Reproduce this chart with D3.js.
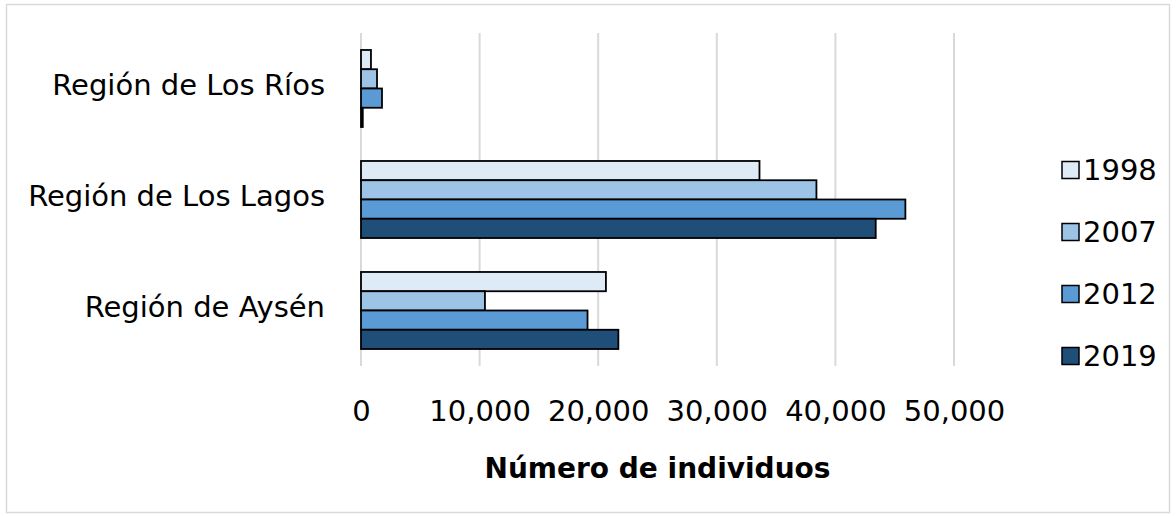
<!DOCTYPE html>
<html>
<head>
<meta charset="utf-8">
<script src="https://cdn.jsdelivr.net/npm/d3@7"></script>
<style>
  html, body { margin: 0; padding: 0; background: #fff; }
  svg { display: block; }
  text { font-family: "DejaVu Sans", sans-serif; fill: #000; }
</style>
</head>
<body>
<svg id="chart" width="1176" height="517"></svg>
<script>
// Regions (top to bottom) and survey years
const categories = ["Región de Los Ríos", "Región de Los Lagos", "Región de Aysén"];
const years = ["1998", "2007", "2012", "2019"];

// Number of individuals per region, one array per year
const v1998 = [840, 33600, 20650];
const v2007 = [1350, 38400, 10450];
const v2012 = [1770, 45900, 19100];
const v2019 = [150, 43400, 21700];

const xTicks = [0, 10000, 20000, 30000, 40000, 50000];
const xTitle = "Número de individuos";

const series = [v1998, v2007, v2012, v2019];
const colors = ["#DEEBF7", "#9DC3E6", "#5B9BD5", "#1F4E79"];

const svg = d3.select("#chart");

// outer chart frame
svg.append("rect")
  .attr("x", 6.5).attr("y", 4.5)
  .attr("width", 1163).attr("height", 508)
  .attr("fill", "#fff").attr("stroke", "#d9d9d9").attr("stroke-width", 1.5);

const x = d3.scaleLinear().domain([0, 50000]).range([361, 954]);
const y = d3.scaleBand().domain(categories).range([33, 366])
  .paddingInner(0.306).paddingOuter(0.153);
const yInner = d3.scaleBand().domain(years).range([0, y.bandwidth()]);

// vertical gridlines
svg.append("g")
  .selectAll("line")
  .data(xTicks)
  .join("line")
  .attr("x1", d => x(d)).attr("x2", d => x(d))
  .attr("y1", 33).attr("y2", 366)
  .attr("stroke", "#d9d9d9").attr("stroke-width", 2);

// bars
const groups = svg.append("g")
  .selectAll("g")
  .data(categories)
  .join("g")
  .attr("transform", d => `translate(0,${y(d)})`);

groups.selectAll("rect")
  .data((d, i) => years.map((yr, k) => ({ yr, k, v: series[k][i] })))
  .join("rect")
  .attr("x", x(0))
  .attr("y", d => yInner(d.yr))
  .attr("width", d => x(d.v) - x(0))
  .attr("height", yInner.bandwidth())
  .attr("fill", d => colors[d.k])
  .attr("stroke", "#000").attr("stroke-width", 1.8);

// category axis labels
const yAxis = d3.axisLeft(y).tickSize(0).tickPadding(36);
const gy = svg.append("g").attr("transform", `translate(${x(0)},-3)`).call(yAxis);
gy.select(".domain").remove();
gy.selectAll("text").style("font-size", "29px").attr("fill", "#000");

// value axis labels
const xAxis = d3.axisBottom(x).tickValues(xTicks).tickSize(0).tickPadding(0)
  .tickFormat(d3.format(","));
const gx = svg.append("g").attr("transform", "translate(0,400)").call(xAxis);
gx.select(".domain").remove();
gx.selectAll("text").style("font-size", "29px").attr("fill", "#000");

// axis title
svg.append("text")
  .attr("x", (x(0) + x(50000)) / 2).attr("y", 478)
  .attr("text-anchor", "middle")
  .style("font-size", "28px").style("font-weight", "bold")
  .text(xTitle);

// legend
const legend = svg.append("g")
  .selectAll("g")
  .data(years)
  .join("g")
  .attr("transform", (d, i) => `translate(1062,${170 + i * 62})`);

legend.append("rect")
  .attr("x", 0).attr("y", -8.5)
  .attr("width", 17).attr("height", 17)
  .attr("fill", (d, i) => colors[i])
  .attr("stroke", "#000").attr("stroke-width", 1.5);

legend.append("text")
  .attr("x", 21).attr("y", 0)
  .attr("dy", "0.36em")
  .style("font-size", "29px")
  .text(d => d);
</script>
</body>
</html>
